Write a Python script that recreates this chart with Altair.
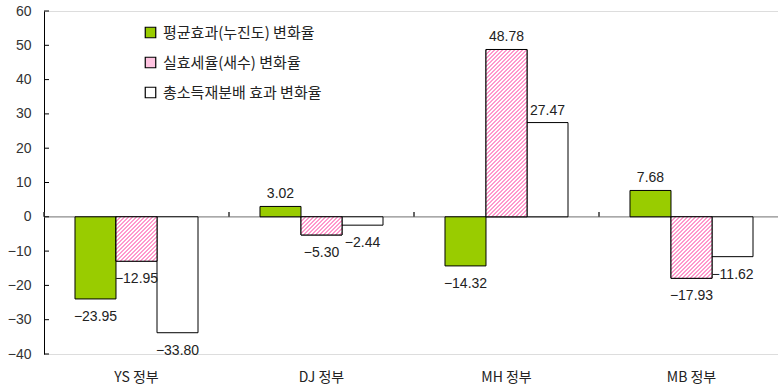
import altair as alt
import pandas as pd

# Categories and series
governments = ["YS 정부", "DJ 정부", "MH 정부", "MB 정부"]
series = ["평균효과(누진도) 변화율", "실효세율(새수) 변화율", "총소득재분배 효과 변화율"]

# Rate of change (%) for each government
avg_effect = [-23.95, 3.02, -14.32, 7.68]
effective_tax = [-12.95, -5.30, 48.78, -17.93]
redistribution = [-33.80, -2.44, 27.47, -11.62]

y_ticks = [-40, -30, -20, -10, 0, 10, 20, 30, 40, 50, 60]

# Layout
PLOT_W, PLOT_H = 734, 343
STEP = 185              # width of one government group
OFFSET_PAD = 0.756      # outer padding inside a group
Y_MIN, Y_MAX = -40, 60
BAR_W = STEP / (3 + 2 * OFFSET_PAD)

GREEN = "#99cc00"
PINK = "#ff99cc"
SOLID_PINK = "#ffc4e1"
TEXT = "#222222"
NUM_FONT = "Liberation Sans"
KR_FONT = "Noto Sans CJK KR"

rows = []
for s, vals in zip(series, [avg_effect, effective_tax, redistribution]):
    for g, v in zip(governments, vals):
        rows.append({"gov": g, "series": s, "value": v})
df = pd.DataFrame(rows)

x_scale = alt.Scale(domain=governments, range=[0, STEP * len(governments)],
                    paddingInner=0, paddingOuter=0)
x_axis = alt.Axis(title=None, orient="bottom", domain=False, ticks=False, labelAngle=0,
                  labelPadding=16, labelFont=KR_FONT, labelFontSize=14, labelColor=TEXT)
y_scale = alt.Scale(domain=[Y_MIN, Y_MAX], nice=False, zero=False)
y_axis = alt.Axis(title=None, values=y_ticks, ticks=False, grid=False,
                  domainColor="black", domainWidth=1, labelPadding=13,
                  labelFont=NUM_FONT, labelFontSize=14, labelColor="#333333")


def xe(**kw):
    return alt.X("gov:N", scale=x_scale, axis=x_axis, **kw)


def ye(field="value"):
    return alt.Y(f"{field}:Q", scale=y_scale, axis=y_axis)


xoff_enc = alt.XOffset("series:N", scale=alt.Scale(domain=series, paddingOuter=OFFSET_PAD,
                                                   paddingInner=0))

base = alt.Chart(df)

# horizontal zero line across the plot
zero_df = pd.DataFrame({"value": [0]})
zero_line = alt.Chart(zero_df).mark_rule(color="#8c8c8c", strokeWidth=1.2).encode(y=ye())

bars = base.mark_bar(stroke="black", strokeWidth=1).encode(
    x=xe(), xOffset=xoff_enc, y=ye(),
    fill=alt.Fill("series:N",
                  scale=alt.Scale(domain=series, range=[GREEN, SOLID_PINK, "white"]),
                  legend=alt.Legend(orient="none", legendX=99, legendY=14, title=None,
                                    symbolType="square", symbolSize=110,
                                    symbolStrokeColor="black", symbolStrokeWidth=1.2,
                                    symbolOpacity=1, labelFont=KR_FONT, labelFontSize=15,
                                    labelColor=TEXT, rowPadding=13, labelOffset=5,
                                    padding=0)),
)


def hatch_fill(value, period=4.0, stripe=1.8):
    """Diagonal '/' stripes as a linear gradient sized to the bar's box."""
    h = abs(value) * PLOT_H / (Y_MAX - Y_MIN)
    w = BAR_W
    total = w + h
    k = total / (w + h * h / w)
    stops = []
    pos = 0.0
    while pos < total:
        a = pos / total
        b = min((pos + stripe) / total, 1.0)
        c = min((pos + period) / total, 1.0)
        stops += [
            {"offset": a, "color": PINK}, {"offset": b, "color": PINK},
            {"offset": b, "color": "white"}, {"offset": c, "color": "white"},
        ]
        pos += period
    return {"gradient": "linear", "x1": 0, "y1": 0, "x2": k, "y2": k * h / w, "stops": stops}


hatched = []
for g, v in zip(governments, effective_tax):
    hatched.append(
        base.transform_filter(
            (alt.datum.series == series[1]) & (alt.datum.gov == g)
        ).mark_bar(fill=hatch_fill(v), stroke="black", strokeWidth=1).encode(
            x=xe(), xOffset=xoff_enc, y=ye())
    )

label_pos = base.transform_filter(alt.datum.value >= 0).mark_text(
    dy=-8, baseline="alphabetic", font=NUM_FONT, fontSize=14, color=TEXT).encode(
    x=xe(), xOffset=xoff_enc, y=ye(), text=alt.Text("value:Q", format=".2f"))
label_neg = base.transform_filter(alt.datum.value < 0).mark_text(
    dy=22, baseline="alphabetic", font=NUM_FONT, fontSize=14, color=TEXT).encode(
    x=xe(), xOffset=xoff_enc, y=ye(), text=alt.Text("value:Q", format=".2f"))

# small category ticks on the zero line at group boundaries
gov_df = pd.DataFrame({"gov": governments, "value": [0] * 4, "top": [1.4] * 4})
group_ticks = alt.Chart(gov_df).mark_rule(color="#333333", strokeWidth=1.5).encode(
    x=xe(bandPosition=0), y=ye(), y2="top:Q")

# inward ticks on the value axis
tick_df = pd.DataFrame({"value": y_ticks})
y_axis_ticks = alt.Chart(tick_df).mark_rule(color="black", strokeWidth=1).encode(
    y=ye(), x=alt.value(0), x2=alt.value(5))

chart = alt.layer(zero_line, bars, *hatched, group_ticks, y_axis_ticks, label_pos, label_neg).properties(
    width=PLOT_W, height=PLOT_H,
    padding={"left": 44, "top": 11, "right": 0, "bottom": 37},
    autosize=alt.AutoSizeParams(type="none"),
).configure_view(stroke=None).configure(background="white")

chart.save("out.html", embed_options={"renderer": "svg", "actions": False})
